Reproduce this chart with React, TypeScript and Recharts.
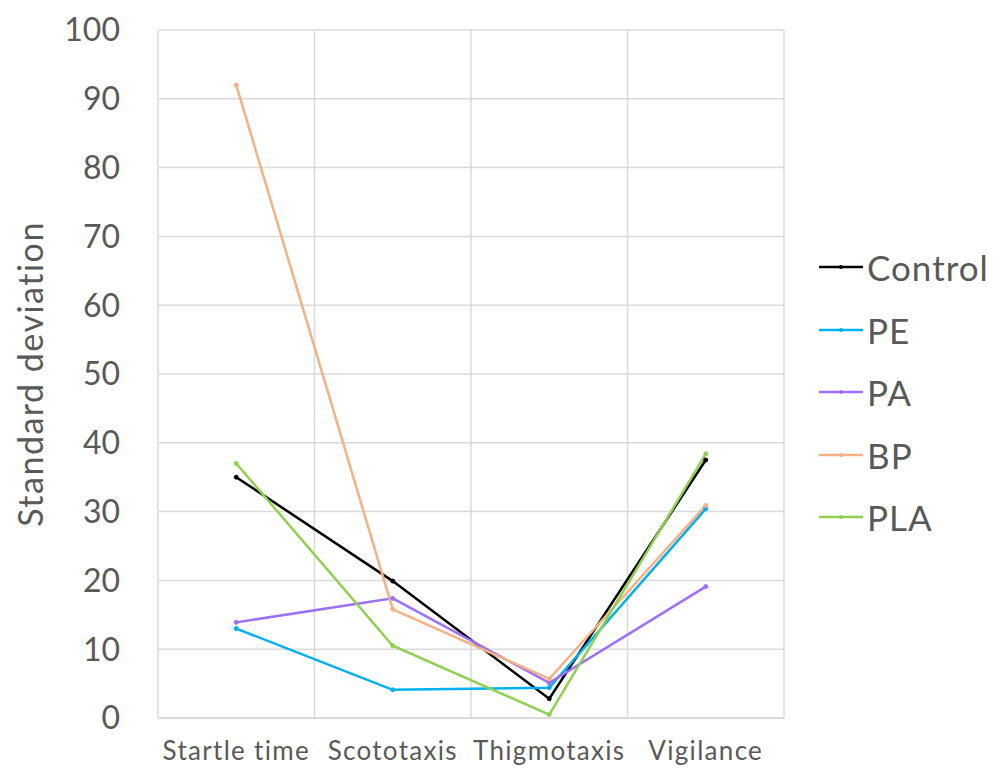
import React from 'react';
import { LineChart, Line, XAxis, YAxis, CartesianGrid } from 'recharts';

const categories = ['Startle time', 'Scototaxis', 'Thigmotaxis', 'Vigilance'];
const control = [35, 19.9, 2.8, 37.5];
const pe = [13, 4.1, 4.4, 30.4];
const pa = [13.9, 17.4, 5.1, 19.1];
const bp = [92, 15.8, 5.7, 30.9];
const pla = [37, 10.5, 0.5, 38.4];
const yTicks = [0, 10, 20, 30, 40, 50, 60, 70, 80, 90, 100];

const SERIES = [
  { key: 'Control', values: control, color: '#000000' },
  { key: 'PE', values: pe, color: '#00B0F0' },
  { key: 'PA', values: pa, color: '#9E6FF7' },
  { key: 'BP', values: bp, color: '#F4B183' },
  { key: 'PLA', values: pla, color: '#8FD14F' },
];

const data = categories.map((category, i) => {
  const row: Record<string, string | number> = { category };
  SERIES.forEach((s) => {
    row[s.key] = s.values[i];
  });
  return row;
});

const FONT = 'Lato, "Open Sans", sans-serif';
const TEXT = '#595959';

function LegendBox() {
  return (
    <div style={{ position: 'absolute', left: 819, top: 236, fontFamily: FONT }}>
      {SERIES.map((s) => (
        <div key={s.key} style={{ display: 'flex', alignItems: 'center', height: 62.5 }}>
          <svg width={48} height={10}>
            <line x1={0} y1={5} x2={44} y2={5} stroke={s.color} strokeWidth={2.5} />
            <circle cx={22} cy={5} r={2} fill={s.color} />
          </svg>
          <span style={{ fontSize: 35, color: TEXT, letterSpacing: 1 }}>{s.key}</span>
        </div>
      ))}
    </div>
  );
}

export default function App() {
  return (
    <div style={{ position: 'absolute', left: 0, top: 0, width: 994, height: 777, background: '#fff' }}>
      <LineChart
        width={994}
        height={777}
        data={data}
        margin={{ top: 30, right: 210, bottom: 0, left: 0 }}
      >
        <CartesianGrid
          stroke="#d9d9d9"
          strokeWidth={1.5}
          verticalCoordinatesGenerator={({ offset }: any) =>
            [0, 1, 2, 3, 4].map((i) => offset.left + (i * offset.width) / categories.length)
          }
        />
        <XAxis
          dataKey="category"
          scale="band"
          height={59}
          axisLine={{ stroke: '#d9d9d9', strokeWidth: 1.5 }}
          tickLine={false}
          tickSize={0}
          tickMargin={24}
          interval={0}
          tick={{ fill: TEXT, fontSize: 26, fontFamily: FONT, letterSpacing: 1.3 }}
        />
        <YAxis
          width={158}
          domain={[0, 100]}
          ticks={yTicks}
          interval={0}
          axisLine={false}
          tickLine={false}
          tickSize={0}
          tickMargin={38}
          tick={{ fill: TEXT, fontSize: 32, fontFamily: FONT }}
          label={{
            content: ({ viewBox }: any) => {
              const cy = viewBox.y + viewBox.height / 2;
              return (
                <text
                  x={29}
                  y={cy}
                  transform={`rotate(-90, 29, ${cy})`}
                  textAnchor="middle"
                  dominantBaseline="central"
                  fill={TEXT}
                  fontSize={34}
                  letterSpacing={1.5}
                  fontFamily={FONT}
                >
                  Standard deviation
                </text>
              );
            },
          }}
        />
        {SERIES.map((s) => (
          <Line
            key={s.key}
            dataKey={s.key}
            stroke={s.color}
            strokeWidth={2.5}
            dot={{ r: 2, fill: s.color, stroke: s.color, strokeWidth: 1 }}
            activeDot={false}
            isAnimationActive={false}
          />
        ))}
      </LineChart>
      <LegendBox />
    </div>
  );
}
